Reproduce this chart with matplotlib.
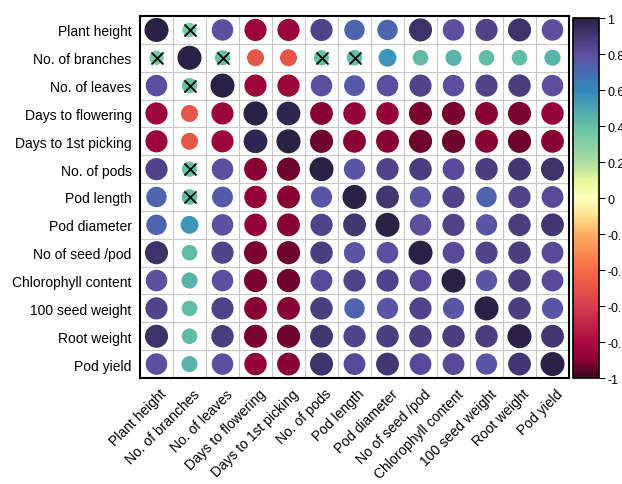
import numpy as np
import matplotlib
matplotlib.use('Agg')
import matplotlib.pyplot as plt
import matplotlib.transforms as mtrans
from matplotlib.colors import LinearSegmentedColormap, Normalize
from matplotlib.colorbar import ColorbarBase

plt.rcParams['font.family'] = ['Liberation Sans', 'DejaVu Sans']

# trait names
traits = ['Plant height', 'No. of branches', 'No. of leaves', 'Days to flowering',
          'Days to 1st picking', 'No. of pods', 'Pod length', 'Pod diameter',
          'No of seed /pod', 'Chlorophyll content', '100 seed weight',
          'Root weight', 'Pod yield']

# correlation rows
r_ph = [1, 0.35, 0.8, -0.85, -0.85, 0.85, 0.72, 0.72, 0.92, 0.8, 0.85, 0.92, 0.8]
r_nb = [0.35, 1, 0.4, -0.5, -0.5, 0.4, 0.42, 0.55, 0.42, 0.45, 0.42, 0.42, 0.45]
r_nl = [0.8, 0.4, 1, -0.85, -0.85, 0.8, 0.75, 0.8, 0.85, 0.8, 0.85, 0.87, 0.8]
r_df = [-0.85, -0.5, -0.85, 1, 0.97, -0.9, -0.87, -0.87, -0.92, -0.92, -0.9, -0.92, -0.87]
r_dp = [-0.85, -0.5, -0.85, 0.97, 1, -0.93, -0.9, -0.9, -0.93, -0.93, -0.9, -0.93, -0.9]
r_np = [0.85, 0.4, 0.8, -0.9, -0.93, 1, 0.78, 0.85, 0.87, 0.82, 0.87, 0.9, 0.92]
r_pl = [0.72, 0.42, 0.75, -0.87, -0.9, 0.78, 1, 0.9, 0.78, 0.85, 0.72, 0.85, 0.82]
r_pd = [0.72, 0.55, 0.8, -0.87, -0.9, 0.85, 0.9, 1, 0.8, 0.85, 0.78, 0.87, 0.9]
r_ns = [0.92, 0.42, 0.85, -0.92, -0.93, 0.87, 0.78, 0.8, 1, 0.82, 0.85, 0.87, 0.82]
r_cc = [0.8, 0.45, 0.8, -0.92, -0.93, 0.82, 0.85, 0.85, 0.82, 1, 0.78, 0.87, 0.82]
r_sw = [0.85, 0.42, 0.85, -0.9, -0.9, 0.87, 0.72, 0.78, 0.85, 0.78, 1, 0.87, 0.78]
r_rw = [0.92, 0.42, 0.87, -0.92, -0.93, 0.9, 0.85, 0.87, 0.87, 0.87, 0.87, 1, 0.9]
r_py = [0.8, 0.45, 0.8, -0.87, -0.9, 0.92, 0.82, 0.9, 0.82, 0.82, 0.78, 0.9, 1]

# non-significant pairs (row, col)
ns_pairs = [(0, 1), (1, 0), (1, 2), (2, 1), (1, 5), (5, 1), (1, 6), (6, 1)]

corr = np.array([r_ph, r_nb, r_nl, r_df, r_dp, r_np, r_pl, r_pd,
                 r_ns, r_cc, r_sw, r_rw, r_py])
n = len(traits)

cmap = LinearSegmentedColormap.from_list('spec', [
    (0.00, '#3a0a1e'), (0.05, '#8c0036'), (0.10, '#a80c42'), (0.20, '#d53e4f'),
    (0.30, '#f46d43'), (0.40, '#fdae61'), (0.45, '#fee08b'), (0.50, '#ffffbf'),
    (0.55, '#e6f598'), (0.60, '#abdda4'), (0.70, '#66c2a5'), (0.80, '#3288bd'),
    (0.90, '#5e4fa2'), (1.00, '#2a2145')])
norm = Normalize(-1, 1)

fig = plt.figure(figsize=(6.22, 4.85), dpi=100)
W, H = 622, 485
ax = fig.add_axes([140 / W, 1 - 379 / H, 429 / W, 362 / H])

# grid
for k in range(1, n):
    ax.axhline(k - 0.5, color='#c8c8c8', lw=0.8, zorder=0)
    ax.axvline(k - 0.5, color='#c8c8c8', lw=0.8, zorder=0)

# circles: area follows |r|, colour follows r
xx, yy = np.meshgrid(np.arange(n), np.arange(n))
vals = corr.ravel()
ax.scatter(xx.ravel(), yy.ravel(), s=np.abs(vals) * 300, c=vals, cmap=cmap, norm=norm,
           edgecolors='none', zorder=2)

# crosses on non-significant cells
cx = [p[1] for p in ns_pairs]
cy = [p[0] for p in ns_pairs]
ax.scatter(cx, cy, marker='x', s=75, c='black', linewidths=1.3, zorder=3)

ax.set_xlim(-0.5, n - 0.5)
ax.set_ylim(n - 0.5, -0.5)
ax.set_xticks(range(n))
ax.set_yticks(range(n))
ax.set_xticklabels(traits, rotation=45, ha='right', rotation_mode='anchor', fontsize=10)
ax.set_yticklabels(traits, fontsize=10)
ax.tick_params(length=0, pad=6)
shift = mtrans.ScaledTranslation(0.03, 0.0, fig.dpi_scale_trans)
for lab in ax.get_xticklabels():
    lab.set_transform(lab.get_transform() + shift)
for s in ax.spines.values():
    s.set_linewidth(1.5)

# colour bar
cax = fig.add_axes([573 / W, 1 - 379 / H, 26 / W, 360 / H])
cb = ColorbarBase(cax, cmap=cmap, norm=norm, ticks=np.round(np.arange(-1, 1.01, 0.2), 1))
cb.ax.set_yticklabels(['-1', '-0.8', '-0.6', '-0.4', '-0.2', '0', '0.2', '0.4', '0.6', '0.8', '1'])
cb.ax.tick_params(length=4, width=0.8, labelsize=9, pad=2)
cb.outline.set_linewidth(1.2)

fig.savefig('out.png', dpi=100)
